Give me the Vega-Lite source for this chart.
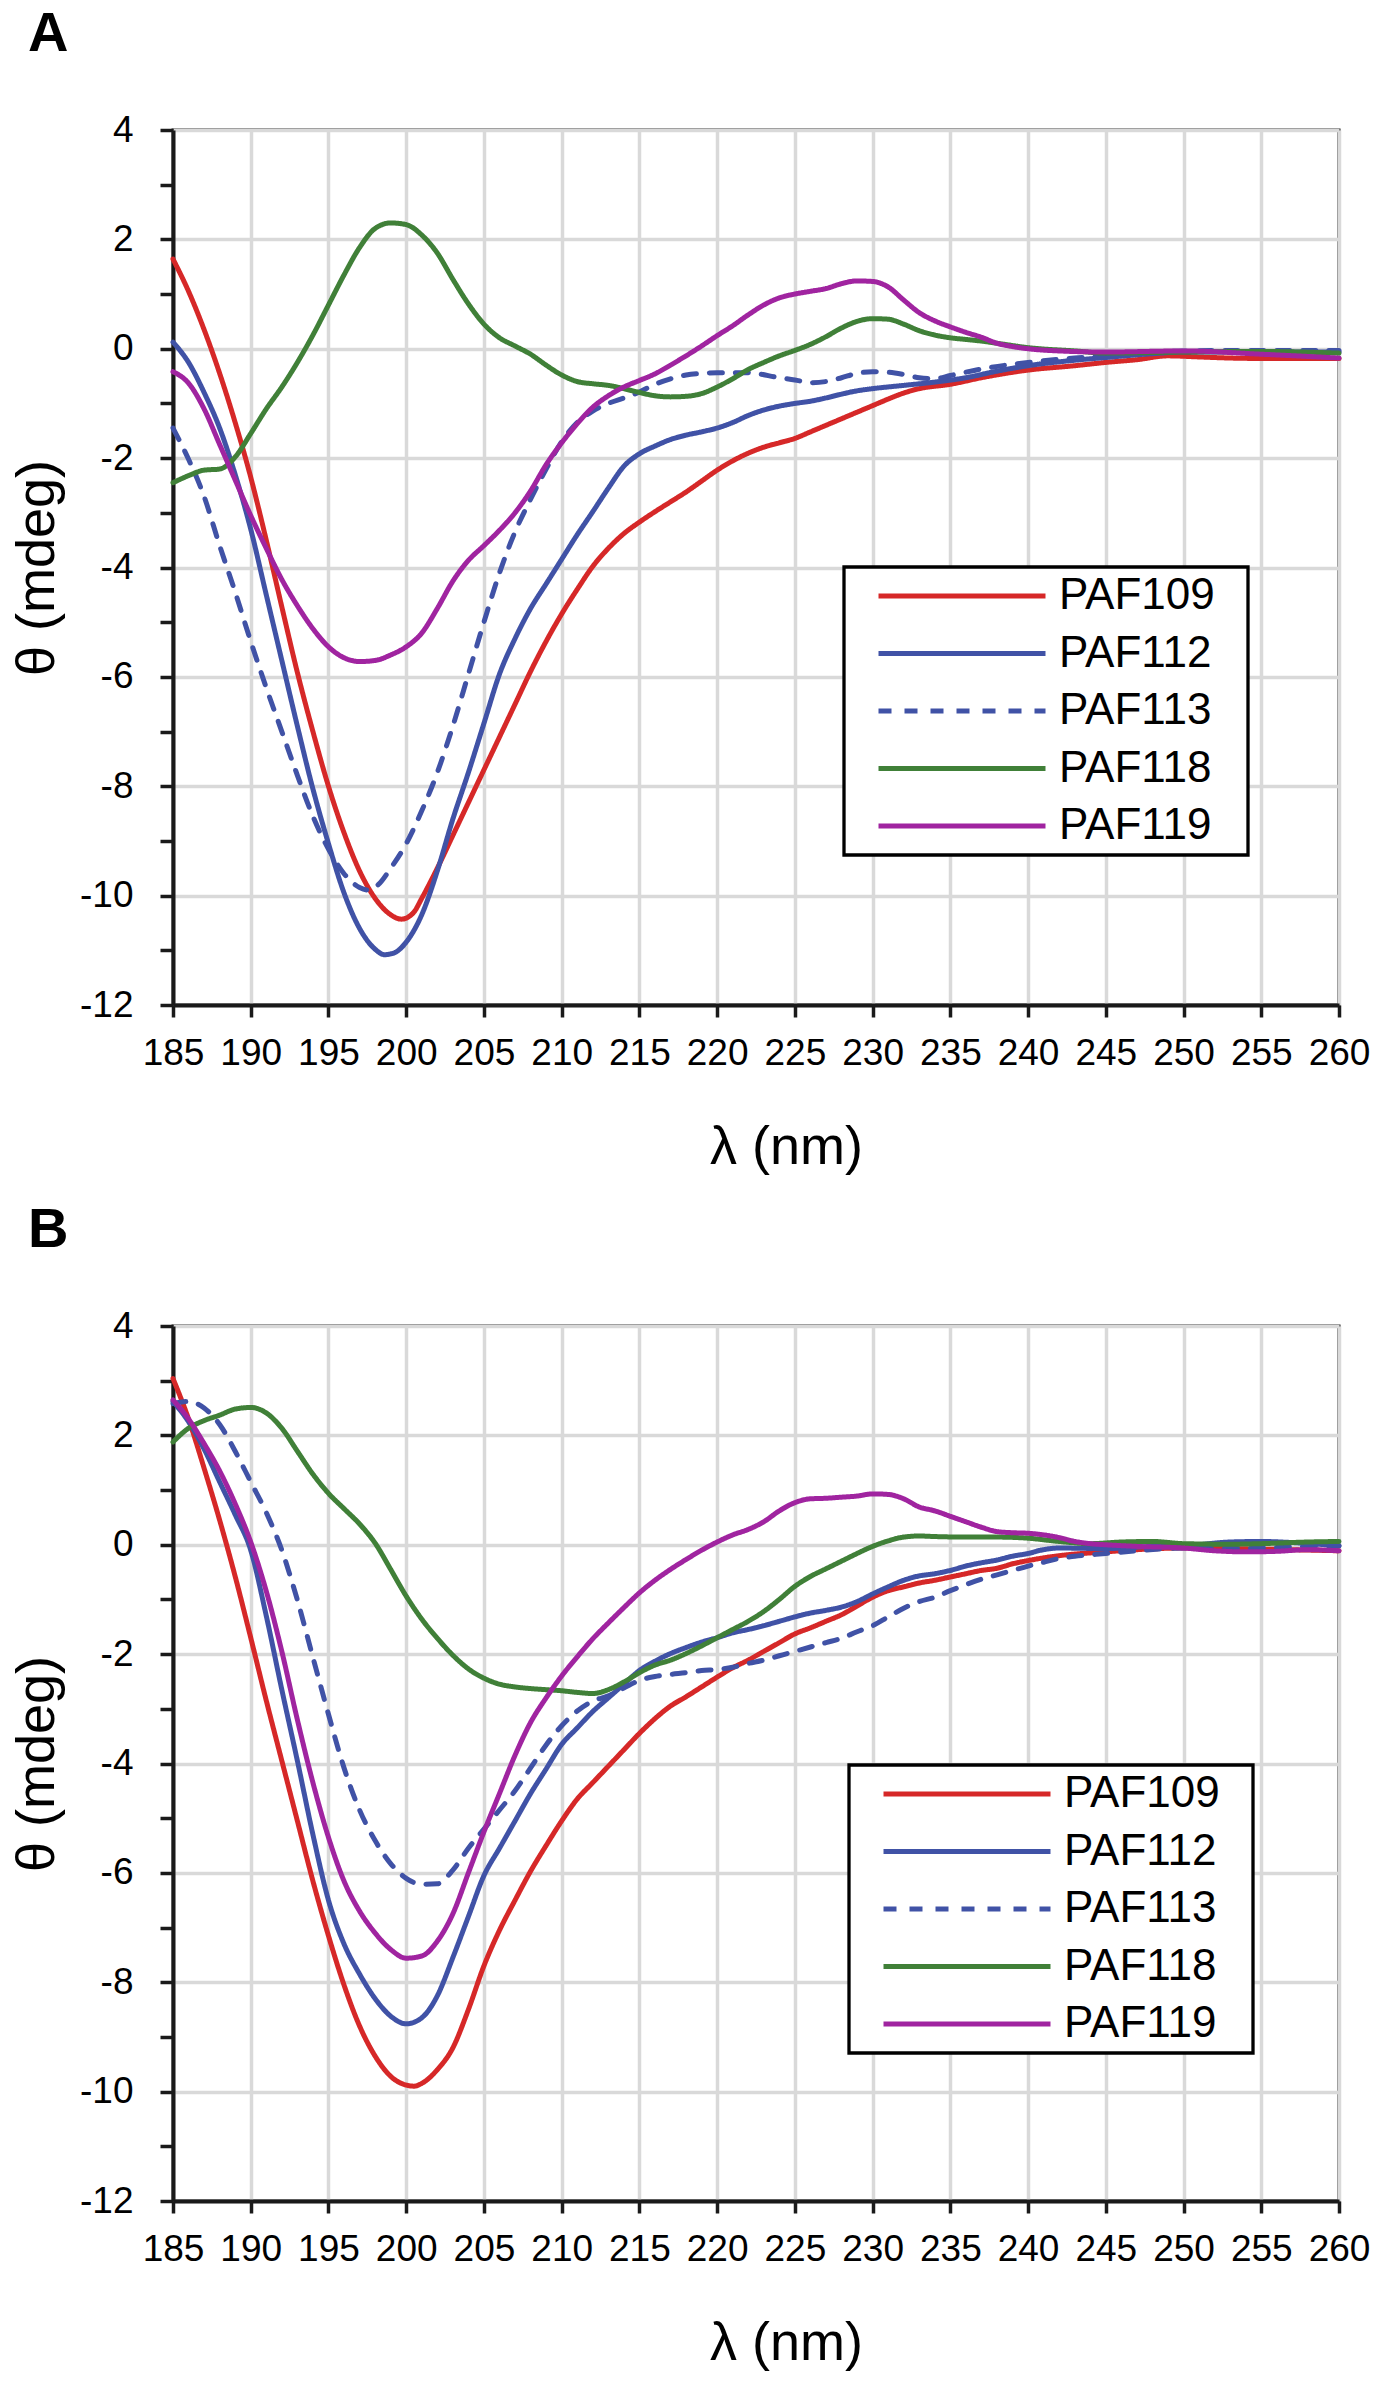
{
  "$schema": "https://vega.github.io/schema/vega-lite/v6.json",
  "background": "white",
  "padding": {"left": 8, "top": 4, "right": 0, "bottom": 0},
  "spacing": 24,
  "config": {
    "font": "Liberation Sans",
    "view": {"stroke": "#1a1a1a", "strokeWidth": 3},
    "axis": {
      "domainColor": "#1a1a1a",
      "domainWidth": 4,
      "tickColor": "#1a1a1a",
      "tickWidth": 3.5,
      "gridColor": "#d9d9d9",
      "gridWidth": 3.5,
      "labelColor": "black",
      "labelFontSize": 37,
      "labelFont": "Liberation Sans",
      "titleFont": "Liberation Sans",
      "titleFontSize": 54,
      "titleFontWeight": "normal",
      "titleColor": "black",
      "labelOverlap": false
    },
    "legend": {
      "orient": "none",
      "direction": "vertical",
      "symbolType": "M-8.35,0H8.35",
      "symbolStrokeWidth": 5,
      "symbolSize": 400,
      "labelFontSize": 44,
      "labelFont": "Liberation Sans",
      "labelColor": "black",
      "labelOffset": 75,
      "symbolOffset": 89,
      "rowPadding": 13.5,
      "padding": 7,
      "strokeColor": "black",
      "strokeWidth": 3.3,
      "fillColor": "white",
      "titleOrient": "right",
      "titleFontSize": 10,
      "titlePadding": 23,
      "titleOpacity": 0
    },
    "title": {
      "anchor": "start",
      "frame": "group",
      "fontSize": 56,
      "fontWeight": "bold",
      "dx": -145,
      "offset": 48,
      "color": "black"
    }
  },
  "resolve": {"legend": {"color": "independent", "strokeDash": "independent"}},
  "datasets": {
    "a": [
      {"s":"PAF109","x":185,"y":1.64},{"s":"PAF109","x":186,"y":1.05},{"s":"PAF109","x":187,"y":0.35},{"s":"PAF109","x":188,"y":-0.45},{"s":"PAF109","x":189,"y":-1.35},{"s":"PAF109","x":190,"y":-2.35},{"s":"PAF109","x":191,"y":-3.5},{"s":"PAF109","x":192,"y":-4.72},{"s":"PAF109","x":193,"y":-5.92},{"s":"PAF109","x":194,"y":-7.0},{"s":"PAF109","x":195,"y":-8.0},{"s":"PAF109","x":196,"y":-8.85},{"s":"PAF109","x":197,"y":-9.55},{"s":"PAF109","x":198,"y":-10.05},{"s":"PAF109","x":199,"y":-10.35},{"s":"PAF109","x":199.7,"y":-10.43},{"s":"PAF109","x":200.5,"y":-10.3},{"s":"PAF109","x":201,"y":-10.05},{"s":"PAF109","x":202,"y":-9.5},{"s":"PAF109","x":203,"y":-8.9},{"s":"PAF109","x":204,"y":-8.3},{"s":"PAF109","x":205,"y":-7.7},{"s":"PAF109","x":206,"y":-7.1},{"s":"PAF109","x":207,"y":-6.5},{"s":"PAF109","x":208,"y":-5.9},{"s":"PAF109","x":209,"y":-5.35},{"s":"PAF109","x":210,"y":-4.85},{"s":"PAF109","x":211,"y":-4.4},{"s":"PAF109","x":212,"y":-3.98},{"s":"PAF109","x":213,"y":-3.65},{"s":"PAF109","x":214,"y":-3.38},{"s":"PAF109","x":215,"y":-3.17},{"s":"PAF109","x":216,"y":-2.98},{"s":"PAF109","x":217,"y":-2.8},{"s":"PAF109","x":218,"y":-2.62},{"s":"PAF109","x":219,"y":-2.42},{"s":"PAF109","x":220,"y":-2.22},{"s":"PAF109","x":221,"y":-2.05},{"s":"PAF109","x":222,"y":-1.91},{"s":"PAF109","x":223,"y":-1.8},{"s":"PAF109","x":224,"y":-1.72},{"s":"PAF109","x":225,"y":-1.64},{"s":"PAF109","x":226,"y":-1.52},{"s":"PAF109","x":227,"y":-1.4},{"s":"PAF109","x":228,"y":-1.28},{"s":"PAF109","x":229,"y":-1.16},{"s":"PAF109","x":230,"y":-1.04},{"s":"PAF109","x":231,"y":-0.92},{"s":"PAF109","x":232,"y":-0.81},{"s":"PAF109","x":233,"y":-0.73},{"s":"PAF109","x":235,"y":-0.65},{"s":"PAF109","x":237,"y":-0.53},{"s":"PAF109","x":240,"y":-0.39},{"s":"PAF109","x":243,"y":-0.31},{"s":"PAF109","x":245,"y":-0.25},{"s":"PAF109","x":247,"y":-0.2},{"s":"PAF109","x":249,"y":-0.13},{"s":"PAF109","x":251,"y":-0.15},{"s":"PAF109","x":253,"y":-0.17},{"s":"PAF109","x":256,"y":-0.18},{"s":"PAF109","x":260,"y":-0.18},
      {"s":"PAF112","x":185,"y":0.12},{"s":"PAF112","x":186,"y":-0.25},{"s":"PAF112","x":187,"y":-0.8},{"s":"PAF112","x":188,"y":-1.45},{"s":"PAF112","x":189,"y":-2.3},{"s":"PAF112","x":190,"y":-3.3},{"s":"PAF112","x":191,"y":-4.5},{"s":"PAF112","x":192,"y":-5.7},{"s":"PAF112","x":193,"y":-6.9},{"s":"PAF112","x":194,"y":-8.05},{"s":"PAF112","x":195,"y":-9.05},{"s":"PAF112","x":196,"y":-9.95},{"s":"PAF112","x":197,"y":-10.6},{"s":"PAF112","x":198,"y":-10.98},{"s":"PAF112","x":198.6,"y":-11.08},{"s":"PAF112","x":199.2,"y":-11.05},{"s":"PAF112","x":200,"y":-10.85},{"s":"PAF112","x":201,"y":-10.35},{"s":"PAF112","x":202,"y":-9.55},{"s":"PAF112","x":203,"y":-8.6},{"s":"PAF112","x":204,"y":-7.75},{"s":"PAF112","x":205,"y":-6.85},{"s":"PAF112","x":206,"y":-5.95},{"s":"PAF112","x":207,"y":-5.3},{"s":"PAF112","x":208,"y":-4.75},{"s":"PAF112","x":209,"y":-4.3},{"s":"PAF112","x":210,"y":-3.85},{"s":"PAF112","x":211,"y":-3.4},{"s":"PAF112","x":212,"y":-2.98},{"s":"PAF112","x":213,"y":-2.55},{"s":"PAF112","x":214,"y":-2.15},{"s":"PAF112","x":215,"y":-1.92},{"s":"PAF112","x":216,"y":-1.78},{"s":"PAF112","x":217,"y":-1.66},{"s":"PAF112","x":218,"y":-1.58},{"s":"PAF112","x":219,"y":-1.52},{"s":"PAF112","x":220,"y":-1.45},{"s":"PAF112","x":221,"y":-1.35},{"s":"PAF112","x":222,"y":-1.22},{"s":"PAF112","x":223,"y":-1.12},{"s":"PAF112","x":224,"y":-1.05},{"s":"PAF112","x":225,"y":-1.0},{"s":"PAF112","x":226,"y":-0.96},{"s":"PAF112","x":227,"y":-0.9},{"s":"PAF112","x":228,"y":-0.83},{"s":"PAF112","x":229,"y":-0.77},{"s":"PAF112","x":230,"y":-0.73},{"s":"PAF112","x":232,"y":-0.67},{"s":"PAF112","x":234,"y":-0.61},{"s":"PAF112","x":236,"y":-0.53},{"s":"PAF112","x":238,"y":-0.41},{"s":"PAF112","x":240,"y":-0.31},{"s":"PAF112","x":243,"y":-0.21},{"s":"PAF112","x":245,"y":-0.16},{"s":"PAF112","x":248,"y":-0.09},{"s":"PAF112","x":250,"y":-0.06},{"s":"PAF112","x":255,"y":-0.06},{"s":"PAF112","x":260,"y":-0.06},
      {"s":"PAF113","x":185,"y":-1.45},{"s":"PAF113","x":186,"y":-2.02},{"s":"PAF113","x":187,"y":-2.7},{"s":"PAF113","x":188,"y":-3.6},{"s":"PAF113","x":189,"y":-4.45},{"s":"PAF113","x":190,"y":-5.35},{"s":"PAF113","x":191,"y":-6.2},{"s":"PAF113","x":192,"y":-7.0},{"s":"PAF113","x":193,"y":-7.8},{"s":"PAF113","x":194,"y":-8.55},{"s":"PAF113","x":195,"y":-9.15},{"s":"PAF113","x":196,"y":-9.6},{"s":"PAF113","x":197,"y":-9.85},{"s":"PAF113","x":197.6,"y":-9.9},{"s":"PAF113","x":198.2,"y":-9.8},{"s":"PAF113","x":199,"y":-9.5},{"s":"PAF113","x":200,"y":-9.05},{"s":"PAF113","x":201,"y":-8.45},{"s":"PAF113","x":202,"y":-7.75},{"s":"PAF113","x":203,"y":-6.9},{"s":"PAF113","x":204,"y":-5.95},{"s":"PAF113","x":205,"y":-5.0},{"s":"PAF113","x":206,"y":-4.1},{"s":"PAF113","x":207,"y":-3.35},{"s":"PAF113","x":208,"y":-2.75},{"s":"PAF113","x":209,"y":-2.2},{"s":"PAF113","x":210,"y":-1.7},{"s":"PAF113","x":211,"y":-1.35},{"s":"PAF113","x":212,"y":-1.14},{"s":"PAF113","x":213,"y":-1.0},{"s":"PAF113","x":214,"y":-0.9},{"s":"PAF113","x":215,"y":-0.79},{"s":"PAF113","x":216,"y":-0.65},{"s":"PAF113","x":217,"y":-0.55},{"s":"PAF113","x":218,"y":-0.48},{"s":"PAF113","x":219,"y":-0.45},{"s":"PAF113","x":220,"y":-0.44},{"s":"PAF113","x":222,"y":-0.44},{"s":"PAF113","x":224,"y":-0.53},{"s":"PAF113","x":225,"y":-0.57},{"s":"PAF113","x":226,"y":-0.62},{"s":"PAF113","x":227,"y":-0.6},{"s":"PAF113","x":228,"y":-0.53},{"s":"PAF113","x":229,"y":-0.45},{"s":"PAF113","x":230,"y":-0.42},{"s":"PAF113","x":231,"y":-0.43},{"s":"PAF113","x":232,"y":-0.47},{"s":"PAF113","x":233,"y":-0.53},{"s":"PAF113","x":234,"y":-0.55},{"s":"PAF113","x":235,"y":-0.49},{"s":"PAF113","x":237,"y":-0.37},{"s":"PAF113","x":240,"y":-0.25},{"s":"PAF113","x":243,"y":-0.17},{"s":"PAF113","x":245,"y":-0.13},{"s":"PAF113","x":248,"y":-0.07},{"s":"PAF113","x":250,"y":-0.04},{"s":"PAF113","x":255,"y":-0.03},{"s":"PAF113","x":260,"y":-0.03},
      {"s":"PAF118","x":185,"y":-2.45},{"s":"PAF118","x":186,"y":-2.32},{"s":"PAF118","x":187,"y":-2.22},{"s":"PAF118","x":188,"y":-2.2},{"s":"PAF118","x":189,"y":-1.98},{"s":"PAF118","x":190,"y":-1.55},{"s":"PAF118","x":191,"y":-1.1},{"s":"PAF118","x":192,"y":-0.7},{"s":"PAF118","x":193,"y":-0.25},{"s":"PAF118","x":194,"y":0.25},{"s":"PAF118","x":195,"y":0.8},{"s":"PAF118","x":196,"y":1.35},{"s":"PAF118","x":197,"y":1.85},{"s":"PAF118","x":198,"y":2.2},{"s":"PAF118","x":199,"y":2.3},{"s":"PAF118","x":200,"y":2.27},{"s":"PAF118","x":201,"y":2.08},{"s":"PAF118","x":202,"y":1.75},{"s":"PAF118","x":203,"y":1.27},{"s":"PAF118","x":204,"y":0.82},{"s":"PAF118","x":205,"y":0.45},{"s":"PAF118","x":206,"y":0.2},{"s":"PAF118","x":207,"y":0.05},{"s":"PAF118","x":208,"y":-0.1},{"s":"PAF118","x":209,"y":-0.3},{"s":"PAF118","x":210,"y":-0.48},{"s":"PAF118","x":211,"y":-0.6},{"s":"PAF118","x":212,"y":-0.64},{"s":"PAF118","x":213,"y":-0.67},{"s":"PAF118","x":214,"y":-0.73},{"s":"PAF118","x":215,"y":-0.8},{"s":"PAF118","x":216,"y":-0.86},{"s":"PAF118","x":217,"y":-0.88},{"s":"PAF118","x":218,"y":-0.87},{"s":"PAF118","x":219,"y":-0.82},{"s":"PAF118","x":220,"y":-0.7},{"s":"PAF118","x":221,"y":-0.55},{"s":"PAF118","x":222,"y":-0.38},{"s":"PAF118","x":223,"y":-0.25},{"s":"PAF118","x":224,"y":-0.13},{"s":"PAF118","x":225,"y":-0.03},{"s":"PAF118","x":226,"y":0.08},{"s":"PAF118","x":227,"y":0.22},{"s":"PAF118","x":228,"y":0.38},{"s":"PAF118","x":229,"y":0.5},{"s":"PAF118","x":230,"y":0.55},{"s":"PAF118","x":231,"y":0.54},{"s":"PAF118","x":232,"y":0.45},{"s":"PAF118","x":233,"y":0.33},{"s":"PAF118","x":234,"y":0.25},{"s":"PAF118","x":235,"y":0.2},{"s":"PAF118","x":236,"y":0.17},{"s":"PAF118","x":237,"y":0.14},{"s":"PAF118","x":238,"y":0.1},{"s":"PAF118","x":240,"y":0.02},{"s":"PAF118","x":243,"y":-0.04},{"s":"PAF118","x":245,"y":-0.08},{"s":"PAF118","x":250,"y":-0.06},{"s":"PAF118","x":255,"y":-0.05},{"s":"PAF118","x":260,"y":-0.08},
      {"s":"PAF119","x":185,"y":-0.42},{"s":"PAF119","x":186,"y":-0.63},{"s":"PAF119","x":187,"y":-1.1},{"s":"PAF119","x":188,"y":-1.75},{"s":"PAF119","x":189,"y":-2.4},{"s":"PAF119","x":190,"y":-3.05},{"s":"PAF119","x":191,"y":-3.65},{"s":"PAF119","x":192,"y":-4.22},{"s":"PAF119","x":193,"y":-4.7},{"s":"PAF119","x":194,"y":-5.12},{"s":"PAF119","x":195,"y":-5.45},{"s":"PAF119","x":196,"y":-5.65},{"s":"PAF119","x":197,"y":-5.72},{"s":"PAF119","x":198,"y":-5.7},{"s":"PAF119","x":199,"y":-5.6},{"s":"PAF119","x":200,"y":-5.45},{"s":"PAF119","x":201,"y":-5.2},{"s":"PAF119","x":202,"y":-4.75},{"s":"PAF119","x":203,"y":-4.25},{"s":"PAF119","x":204,"y":-3.87},{"s":"PAF119","x":205,"y":-3.6},{"s":"PAF119","x":206,"y":-3.32},{"s":"PAF119","x":207,"y":-3.0},{"s":"PAF119","x":208,"y":-2.6},{"s":"PAF119","x":209,"y":-2.12},{"s":"PAF119","x":210,"y":-1.72},{"s":"PAF119","x":211,"y":-1.37},{"s":"PAF119","x":212,"y":-1.07},{"s":"PAF119","x":213,"y":-0.86},{"s":"PAF119","x":214,"y":-0.7},{"s":"PAF119","x":215,"y":-0.58},{"s":"PAF119","x":216,"y":-0.46},{"s":"PAF119","x":217,"y":-0.3},{"s":"PAF119","x":218,"y":-0.13},{"s":"PAF119","x":219,"y":0.05},{"s":"PAF119","x":220,"y":0.24},{"s":"PAF119","x":221,"y":0.42},{"s":"PAF119","x":222,"y":0.62},{"s":"PAF119","x":223,"y":0.8},{"s":"PAF119","x":224,"y":0.93},{"s":"PAF119","x":225,"y":1.0},{"s":"PAF119","x":226,"y":1.05},{"s":"PAF119","x":227,"y":1.1},{"s":"PAF119","x":228,"y":1.19},{"s":"PAF119","x":229,"y":1.24},{"s":"PAF119","x":230,"y":1.23},{"s":"PAF119","x":231,"y":1.13},{"s":"PAF119","x":232,"y":0.89},{"s":"PAF119","x":233,"y":0.66},{"s":"PAF119","x":234,"y":0.51},{"s":"PAF119","x":235,"y":0.4},{"s":"PAF119","x":236,"y":0.3},{"s":"PAF119","x":237,"y":0.21},{"s":"PAF119","x":238,"y":0.1},{"s":"PAF119","x":239,"y":0.04},{"s":"PAF119","x":240,"y":0.0},{"s":"PAF119","x":242,"y":-0.04},{"s":"PAF119","x":245,"y":-0.06},{"s":"PAF119","x":250,"y":-0.04},{"s":"PAF119","x":255,"y":-0.1},{"s":"PAF119","x":260,"y":-0.17}
    ],
    "b": [
      {"s":"PAF109","x":185,"y":3.04},{"s":"PAF109","x":186,"y":2.3},{"s":"PAF109","x":187,"y":1.4},{"s":"PAF109","x":188,"y":0.45},{"s":"PAF109","x":189,"y":-0.58},{"s":"PAF109","x":190,"y":-1.7},{"s":"PAF109","x":191,"y":-2.85},{"s":"PAF109","x":192,"y":-3.95},{"s":"PAF109","x":193,"y":-5.05},{"s":"PAF109","x":194,"y":-6.15},{"s":"PAF109","x":195,"y":-7.15},{"s":"PAF109","x":196,"y":-8.05},{"s":"PAF109","x":197,"y":-8.8},{"s":"PAF109","x":198,"y":-9.35},{"s":"PAF109","x":199,"y":-9.72},{"s":"PAF109","x":200,"y":-9.88},{"s":"PAF109","x":200.5,"y":-9.9},{"s":"PAF109","x":201,"y":-9.85},{"s":"PAF109","x":202,"y":-9.6},{"s":"PAF109","x":203,"y":-9.2},{"s":"PAF109","x":204,"y":-8.5},{"s":"PAF109","x":205,"y":-7.7},{"s":"PAF109","x":206,"y":-7.05},{"s":"PAF109","x":207,"y":-6.5},{"s":"PAF109","x":208,"y":-5.97},{"s":"PAF109","x":209,"y":-5.5},{"s":"PAF109","x":210,"y":-5.05},{"s":"PAF109","x":211,"y":-4.65},{"s":"PAF109","x":212,"y":-4.35},{"s":"PAF109","x":213,"y":-4.05},{"s":"PAF109","x":214,"y":-3.75},{"s":"PAF109","x":215,"y":-3.45},{"s":"PAF109","x":216,"y":-3.18},{"s":"PAF109","x":217,"y":-2.95},{"s":"PAF109","x":218,"y":-2.78},{"s":"PAF109","x":219,"y":-2.6},{"s":"PAF109","x":220,"y":-2.42},{"s":"PAF109","x":221,"y":-2.25},{"s":"PAF109","x":222,"y":-2.11},{"s":"PAF109","x":223,"y":-1.95},{"s":"PAF109","x":224,"y":-1.79},{"s":"PAF109","x":225,"y":-1.63},{"s":"PAF109","x":226,"y":-1.52},{"s":"PAF109","x":227,"y":-1.4},{"s":"PAF109","x":228,"y":-1.28},{"s":"PAF109","x":229,"y":-1.12},{"s":"PAF109","x":230,"y":-0.96},{"s":"PAF109","x":231,"y":-0.84},{"s":"PAF109","x":232,"y":-0.77},{"s":"PAF109","x":233,"y":-0.7},{"s":"PAF109","x":234,"y":-0.65},{"s":"PAF109","x":235,"y":-0.59},{"s":"PAF109","x":236,"y":-0.53},{"s":"PAF109","x":237,"y":-0.47},{"s":"PAF109","x":238,"y":-0.43},{"s":"PAF109","x":239,"y":-0.35},{"s":"PAF109","x":240,"y":-0.29},{"s":"PAF109","x":242,"y":-0.2},{"s":"PAF109","x":245,"y":-0.13},{"s":"PAF109","x":247,"y":-0.09},{"s":"PAF109","x":250,"y":-0.06},{"s":"PAF109","x":255,"y":-0.08},{"s":"PAF109","x":260,"y":-0.11},
      {"s":"PAF112","x":185,"y":2.62},{"s":"PAF112","x":186,"y":2.25},{"s":"PAF112","x":187,"y":1.75},{"s":"PAF112","x":188,"y":1.15},{"s":"PAF112","x":189,"y":0.55},{"s":"PAF112","x":190,"y":-0.1},{"s":"PAF112","x":191,"y":-1.3},{"s":"PAF112","x":192,"y":-2.65},{"s":"PAF112","x":193,"y":-3.95},{"s":"PAF112","x":194,"y":-5.3},{"s":"PAF112","x":195,"y":-6.5},{"s":"PAF112","x":196,"y":-7.3},{"s":"PAF112","x":197,"y":-7.85},{"s":"PAF112","x":198,"y":-8.3},{"s":"PAF112","x":199,"y":-8.62},{"s":"PAF112","x":200,"y":-8.76},{"s":"PAF112","x":201,"y":-8.65},{"s":"PAF112","x":202,"y":-8.25},{"s":"PAF112","x":203,"y":-7.55},{"s":"PAF112","x":204,"y":-6.8},{"s":"PAF112","x":205,"y":-6.05},{"s":"PAF112","x":206,"y":-5.55},{"s":"PAF112","x":207,"y":-5.05},{"s":"PAF112","x":208,"y":-4.55},{"s":"PAF112","x":209,"y":-4.1},{"s":"PAF112","x":210,"y":-3.65},{"s":"PAF112","x":211,"y":-3.35},{"s":"PAF112","x":212,"y":-3.05},{"s":"PAF112","x":213,"y":-2.8},{"s":"PAF112","x":214,"y":-2.55},{"s":"PAF112","x":215,"y":-2.3},{"s":"PAF112","x":216,"y":-2.13},{"s":"PAF112","x":217,"y":-1.99},{"s":"PAF112","x":218,"y":-1.88},{"s":"PAF112","x":219,"y":-1.78},{"s":"PAF112","x":220,"y":-1.7},{"s":"PAF112","x":221,"y":-1.61},{"s":"PAF112","x":222,"y":-1.55},{"s":"PAF112","x":223,"y":-1.48},{"s":"PAF112","x":224,"y":-1.4},{"s":"PAF112","x":225,"y":-1.32},{"s":"PAF112","x":226,"y":-1.25},{"s":"PAF112","x":227,"y":-1.2},{"s":"PAF112","x":228,"y":-1.14},{"s":"PAF112","x":229,"y":-1.04},{"s":"PAF112","x":230,"y":-0.9},{"s":"PAF112","x":231,"y":-0.77},{"s":"PAF112","x":232,"y":-0.65},{"s":"PAF112","x":233,"y":-0.57},{"s":"PAF112","x":234,"y":-0.53},{"s":"PAF112","x":235,"y":-0.47},{"s":"PAF112","x":236,"y":-0.39},{"s":"PAF112","x":237,"y":-0.33},{"s":"PAF112","x":238,"y":-0.28},{"s":"PAF112","x":239,"y":-0.21},{"s":"PAF112","x":240,"y":-0.16},{"s":"PAF112","x":241,"y":-0.09},{"s":"PAF112","x":242,"y":-0.06},{"s":"PAF112","x":245,"y":-0.07},{"s":"PAF112","x":248,"y":-0.03},{"s":"PAF112","x":250,"y":-0.02},{"s":"PAF112","x":253,"y":0.05},{"s":"PAF112","x":255,"y":0.06},{"s":"PAF112","x":257,"y":0.04},{"s":"PAF112","x":260,"y":-0.02},
      {"s":"PAF113","x":185,"y":2.58},{"s":"PAF113","x":186,"y":2.62},{"s":"PAF113","x":187,"y":2.5},{"s":"PAF113","x":188,"y":2.2},{"s":"PAF113","x":189,"y":1.71},{"s":"PAF113","x":190,"y":1.15},{"s":"PAF113","x":191,"y":0.59},{"s":"PAF113","x":192,"y":-0.1},{"s":"PAF113","x":193,"y":-1.01},{"s":"PAF113","x":194,"y":-2.06},{"s":"PAF113","x":195,"y":-3.1},{"s":"PAF113","x":196,"y":-4.08},{"s":"PAF113","x":197,"y":-4.85},{"s":"PAF113","x":198,"y":-5.41},{"s":"PAF113","x":199,"y":-5.83},{"s":"PAF113","x":200,"y":-6.1},{"s":"PAF113","x":201,"y":-6.21},{"s":"PAF113","x":202,"y":-6.2},{"s":"PAF113","x":203,"y":-5.95},{"s":"PAF113","x":204,"y":-5.55},{"s":"PAF113","x":205,"y":-5.2},{"s":"PAF113","x":206,"y":-4.85},{"s":"PAF113","x":207,"y":-4.5},{"s":"PAF113","x":208,"y":-4.08},{"s":"PAF113","x":209,"y":-3.66},{"s":"PAF113","x":210,"y":-3.31},{"s":"PAF113","x":211,"y":-3.04},{"s":"PAF113","x":212,"y":-2.86},{"s":"PAF113","x":213,"y":-2.76},{"s":"PAF113","x":214,"y":-2.62},{"s":"PAF113","x":215,"y":-2.48},{"s":"PAF113","x":216,"y":-2.41},{"s":"PAF113","x":217,"y":-2.37},{"s":"PAF113","x":218,"y":-2.34},{"s":"PAF113","x":219,"y":-2.3},{"s":"PAF113","x":220,"y":-2.28},{"s":"PAF113","x":221,"y":-2.24},{"s":"PAF113","x":222,"y":-2.17},{"s":"PAF113","x":223,"y":-2.11},{"s":"PAF113","x":224,"y":-2.03},{"s":"PAF113","x":225,"y":-1.95},{"s":"PAF113","x":226,"y":-1.87},{"s":"PAF113","x":227,"y":-1.79},{"s":"PAF113","x":228,"y":-1.71},{"s":"PAF113","x":229,"y":-1.59},{"s":"PAF113","x":230,"y":-1.48},{"s":"PAF113","x":231,"y":-1.32},{"s":"PAF113","x":232,"y":-1.16},{"s":"PAF113","x":233,"y":-1.04},{"s":"PAF113","x":234,"y":-0.96},{"s":"PAF113","x":235,"y":-0.84},{"s":"PAF113","x":236,"y":-0.73},{"s":"PAF113","x":237,"y":-0.63},{"s":"PAF113","x":238,"y":-0.55},{"s":"PAF113","x":239,"y":-0.47},{"s":"PAF113","x":240,"y":-0.39},{"s":"PAF113","x":241,"y":-0.32},{"s":"PAF113","x":242,"y":-0.25},{"s":"PAF113","x":243,"y":-0.21},{"s":"PAF113","x":245,"y":-0.16},{"s":"PAF113","x":247,"y":-0.11},{"s":"PAF113","x":250,"y":-0.06},{"s":"PAF113","x":252,"y":-0.07},{"s":"PAF113","x":255,"y":-0.06},{"s":"PAF113","x":258,"y":-0.03},{"s":"PAF113","x":260,"y":-0.02},
      {"s":"PAF118","x":185,"y":1.88},{"s":"PAF118","x":186,"y":2.13},{"s":"PAF118","x":187,"y":2.27},{"s":"PAF118","x":188,"y":2.37},{"s":"PAF118","x":189,"y":2.48},{"s":"PAF118","x":190,"y":2.51},{"s":"PAF118","x":191,"y":2.41},{"s":"PAF118","x":192,"y":2.13},{"s":"PAF118","x":193,"y":1.71},{"s":"PAF118","x":194,"y":1.29},{"s":"PAF118","x":195,"y":0.94},{"s":"PAF118","x":196,"y":0.66},{"s":"PAF118","x":197,"y":0.38},{"s":"PAF118","x":198,"y":0.03},{"s":"PAF118","x":199,"y":-0.45},{"s":"PAF118","x":200,"y":-0.94},{"s":"PAF118","x":201,"y":-1.36},{"s":"PAF118","x":202,"y":-1.71},{"s":"PAF118","x":203,"y":-2.02},{"s":"PAF118","x":204,"y":-2.27},{"s":"PAF118","x":205,"y":-2.44},{"s":"PAF118","x":206,"y":-2.55},{"s":"PAF118","x":207,"y":-2.6},{"s":"PAF118","x":208,"y":-2.63},{"s":"PAF118","x":209,"y":-2.65},{"s":"PAF118","x":210,"y":-2.67},{"s":"PAF118","x":211,"y":-2.7},{"s":"PAF118","x":212,"y":-2.72},{"s":"PAF118","x":213,"y":-2.65},{"s":"PAF118","x":214,"y":-2.51},{"s":"PAF118","x":215,"y":-2.34},{"s":"PAF118","x":216,"y":-2.2},{"s":"PAF118","x":217,"y":-2.11},{"s":"PAF118","x":218,"y":-1.99},{"s":"PAF118","x":219,"y":-1.85},{"s":"PAF118","x":220,"y":-1.7},{"s":"PAF118","x":221,"y":-1.55},{"s":"PAF118","x":222,"y":-1.4},{"s":"PAF118","x":223,"y":-1.22},{"s":"PAF118","x":224,"y":-1.0},{"s":"PAF118","x":225,"y":-0.76},{"s":"PAF118","x":226,"y":-0.58},{"s":"PAF118","x":227,"y":-0.44},{"s":"PAF118","x":228,"y":-0.3},{"s":"PAF118","x":229,"y":-0.16},{"s":"PAF118","x":230,"y":-0.03},{"s":"PAF118","x":231,"y":0.07},{"s":"PAF118","x":232,"y":0.14},{"s":"PAF118","x":233,"y":0.16},{"s":"PAF118","x":234,"y":0.15},{"s":"PAF118","x":236,"y":0.14},{"s":"PAF118","x":238,"y":0.14},{"s":"PAF118","x":240,"y":0.12},{"s":"PAF118","x":242,"y":0.06},{"s":"PAF118","x":244,"y":0.02},{"s":"PAF118","x":246,"y":0.05},{"s":"PAF118","x":248,"y":0.06},{"s":"PAF118","x":250,"y":0.02},{"s":"PAF118","x":253,"y":0.01},{"s":"PAF118","x":255,"y":0.02},{"s":"PAF118","x":258,"y":0.05},{"s":"PAF118","x":260,"y":0.06},
      {"s":"PAF119","x":185,"y":2.65},{"s":"PAF119","x":186,"y":2.3},{"s":"PAF119","x":187,"y":1.85},{"s":"PAF119","x":188,"y":1.35},{"s":"PAF119","x":189,"y":0.75},{"s":"PAF119","x":190,"y":0.05},{"s":"PAF119","x":191,"y":-0.85},{"s":"PAF119","x":192,"y":-1.95},{"s":"PAF119","x":193,"y":-3.2},{"s":"PAF119","x":194,"y":-4.35},{"s":"PAF119","x":195,"y":-5.35},{"s":"PAF119","x":196,"y":-6.15},{"s":"PAF119","x":197,"y":-6.7},{"s":"PAF119","x":198,"y":-7.1},{"s":"PAF119","x":199,"y":-7.4},{"s":"PAF119","x":200,"y":-7.56},{"s":"PAF119","x":201,"y":-7.52},{"s":"PAF119","x":202,"y":-7.25},{"s":"PAF119","x":203,"y":-6.75},{"s":"PAF119","x":204,"y":-6.0},{"s":"PAF119","x":205,"y":-5.25},{"s":"PAF119","x":206,"y":-4.55},{"s":"PAF119","x":207,"y":-3.85},{"s":"PAF119","x":208,"y":-3.25},{"s":"PAF119","x":209,"y":-2.8},{"s":"PAF119","x":210,"y":-2.4},{"s":"PAF119","x":211,"y":-2.05},{"s":"PAF119","x":212,"y":-1.72},{"s":"PAF119","x":213,"y":-1.43},{"s":"PAF119","x":214,"y":-1.15},{"s":"PAF119","x":215,"y":-0.88},{"s":"PAF119","x":216,"y":-0.65},{"s":"PAF119","x":217,"y":-0.45},{"s":"PAF119","x":218,"y":-0.27},{"s":"PAF119","x":219,"y":-0.1},{"s":"PAF119","x":220,"y":0.05},{"s":"PAF119","x":221,"y":0.18},{"s":"PAF119","x":222,"y":0.28},{"s":"PAF119","x":223,"y":0.42},{"s":"PAF119","x":224,"y":0.62},{"s":"PAF119","x":225,"y":0.77},{"s":"PAF119","x":226,"y":0.84},{"s":"PAF119","x":227,"y":0.85},{"s":"PAF119","x":228,"y":0.87},{"s":"PAF119","x":229,"y":0.89},{"s":"PAF119","x":230,"y":0.93},{"s":"PAF119","x":231,"y":0.92},{"s":"PAF119","x":232,"y":0.84},{"s":"PAF119","x":233,"y":0.69},{"s":"PAF119","x":234,"y":0.62},{"s":"PAF119","x":235,"y":0.52},{"s":"PAF119","x":236,"y":0.42},{"s":"PAF119","x":237,"y":0.32},{"s":"PAF119","x":238,"y":0.24},{"s":"PAF119","x":239,"y":0.22},{"s":"PAF119","x":240,"y":0.21},{"s":"PAF119","x":241,"y":0.18},{"s":"PAF119","x":242,"y":0.13},{"s":"PAF119","x":243,"y":0.06},{"s":"PAF119","x":244,"y":0.02},{"s":"PAF119","x":245,"y":0.0},{"s":"PAF119","x":247,"y":-0.03},{"s":"PAF119","x":250,"y":-0.06},{"s":"PAF119","x":252,"y":-0.11},{"s":"PAF119","x":254,"y":-0.13},{"s":"PAF119","x":256,"y":-0.12},{"s":"PAF119","x":258,"y":-0.09},{"s":"PAF119","x":260,"y":-0.11}
    ]
  },
  "vconcat": [
    {
      "title": {"text": "A"},
      "width": 1166,
      "height": 875,
      "data": {"name": "a"},
      "mark": {"type": "line", "strokeWidth": 5, "strokeCap": "round", "interpolate": "monotone"},
      "encoding": {
        "x": {
          "field": "x",
          "type": "quantitative",
          "scale": {"domain": [185, 260], "nice": false, "zero": false},
          "axis": {
            "values": [185, 190, 195, 200, 205, 210, 215, 220, 225, 230, 235, 240, 245, 250, 255, 260],
            "tickSize": 12,
            "labelPadding": 18,
            "labelFlush": false,
            "title": "λ (nm)",
            "titleX": 613,
            "titleY": 142,
            "titleAlign": "center",
            "titleBaseline": "middle"
          }
        },
        "y": {
          "field": "y",
          "type": "quantitative",
          "scale": {"domain": [-12, 4], "nice": false, "zero": false},
          "axis": {
            "values": [-12, -11, -10, -9, -8, -7, -6, -5, -4, -3, -2, -1, 0, 1, 2, 3, 4],
            "labelExpr": "datum.value % 2 == 0 ? '' + datum.value : ''",
            "gridOpacity": {"condition": {"test": "datum.value % 2 != 0", "value": 0}, "value": 1},
            "tickSize": 13,
            "labelPadding": 27,
            "labelFlush": false,
            "title": "θ (mdeg)",
            "titleAngle": 270,
            "titleX": -136,
            "titleY": 437.5,
            "titleAlign": "center",
            "titleBaseline": "middle"
          }
        },
        "color": {
          "field": "s",
          "type": "nominal",
          "scale": {"domain": ["PAF109", "PAF112", "PAF113", "PAF118", "PAF119"], "range": ["#d62828", "#4052a6", "#4052a6", "#408038", "#a024a0"]},
          "legend": {"title": ".", "legendX": 671, "legendY": 437}
        },
        "strokeDash": {
          "field": "s",
          "type": "nominal",
          "scale": {"domain": ["PAF109", "PAF112", "PAF113", "PAF118", "PAF119"], "range": [[1, 0], [1, 0], [13, 13], [1, 0], [1, 0]]},
          "legend": {"title": ".", "legendX": 671, "legendY": 437}
        }
      }
    },
    {
      "title": {"text": "B"},
      "width": 1166,
      "height": 875,
      "data": {"name": "b"},
      "mark": {"type": "line", "strokeWidth": 5, "strokeCap": "round", "interpolate": "monotone"},
      "encoding": {
        "x": {
          "field": "x",
          "type": "quantitative",
          "scale": {"domain": [185, 260], "nice": false, "zero": false},
          "axis": {
            "values": [185, 190, 195, 200, 205, 210, 215, 220, 225, 230, 235, 240, 245, 250, 255, 260],
            "tickSize": 12,
            "labelPadding": 18,
            "labelFlush": false,
            "title": "λ (nm)",
            "titleX": 613,
            "titleY": 142,
            "titleAlign": "center",
            "titleBaseline": "middle"
          }
        },
        "y": {
          "field": "y",
          "type": "quantitative",
          "scale": {"domain": [-12, 4], "nice": false, "zero": false},
          "axis": {
            "values": [-12, -11, -10, -9, -8, -7, -6, -5, -4, -3, -2, -1, 0, 1, 2, 3, 4],
            "labelExpr": "datum.value % 2 == 0 ? '' + datum.value : ''",
            "gridOpacity": {"condition": {"test": "datum.value % 2 != 0", "value": 0}, "value": 1},
            "tickSize": 13,
            "labelPadding": 27,
            "labelFlush": false,
            "title": "θ (mdeg)",
            "titleAngle": 270,
            "titleX": -136,
            "titleY": 437.5,
            "titleAlign": "center",
            "titleBaseline": "middle"
          }
        },
        "color": {
          "field": "s",
          "type": "nominal",
          "scale": {"domain": ["PAF109", "PAF112", "PAF113", "PAF118", "PAF119"], "range": ["#d62828", "#4052a6", "#4052a6", "#408038", "#a024a0"]},
          "legend": {"title": ".", "legendX": 676, "legendY": 439}
        },
        "strokeDash": {
          "field": "s",
          "type": "nominal",
          "scale": {"domain": ["PAF109", "PAF112", "PAF113", "PAF118", "PAF119"], "range": [[1, 0], [1, 0], [13, 13], [1, 0], [1, 0]]},
          "legend": {"title": ".", "legendX": 676, "legendY": 439}
        }
      }
    }
  ]
}
